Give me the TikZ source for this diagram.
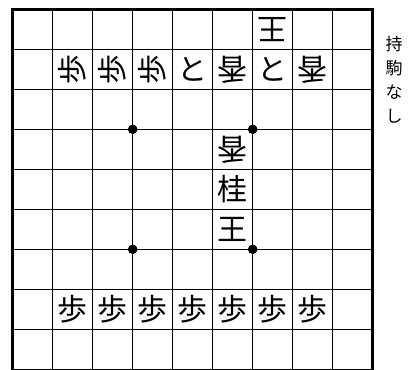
\documentclass[tikz,border=0pt]{standalone}
\usepackage{fontspec}
\newfontfamily\jpfont{Noto Sans CJK JP}
\begin{document}
\begin{tikzpicture}[
  x=1pt,y=-1pt,
  sente/.style={font=\jpfont\fontsize{30}{30}\selectfont,inner sep=0pt},
  gote/.style={sente,rotate=180},
  star/.style={circle,fill,inner sep=3.4pt},
  hand/.style={font=\jpfont\fontsize{17}{24}\selectfont,inner sep=0pt,align=center},
]
\def\cs{40}
\def\ox{12.7}
\def\oy{9.3}
\useasboundingbox (0,0) rectangle (409,369);
\clip (0,0) rectangle (409,369);

% ----- grid -----
\foreach \i in {1,...,8}
  \draw[line width=1.4pt] (\ox+\i*\cs,\oy) -- (\ox+\i*\cs,380);
\foreach \j in {1,...,9}
  \draw[line width=1.4pt] (\ox,\oy+\j*\cs) -- (\ox+9*\cs,\oy+\j*\cs);
\draw[line width=3pt] (\ox,380) |- (\ox+9*\cs,\oy) -- (\ox+9*\cs,380);

% ----- star points -----
\foreach \i/\j [count=\k] in {3/3,6/3,3/6,6/6}
  \node[star] (s\k) at (\ox+\i*\cs,\oy+\j*\cs) {};

% ----- gote pieces (glyphs turned as printed) -----
\node[gote] (g71) at (\ox+6.5*\cs,\oy+0.5*\cs) {王};
\foreach \c/\p/\r in {2/歩/90,3/歩/90,4/歩/90,5/と/0,6/香/180,7/と/0,8/香/180}
  \node[sente,rotate=\r] (g\c2) at (\ox+\c*\cs-0.5*\cs,\oy+1.5*\cs) {\p};
\node[gote] (g64) at (\ox+5.5*\cs,\oy+3.5*\cs) {香};

% ----- sente pieces -----
\node[sente] (s65) at (\ox+5.5*\cs,\oy+4.5*\cs) {桂};
\node[sente] (s66) at (\ox+5.5*\cs,\oy+5.5*\cs) {王};
\foreach \c in {2,...,8}
  \node[sente] (s\c8) at (\ox+\c*\cs-0.5*\cs,\oy+7.5*\cs) {歩};

% ----- pieces in hand -----
\node[hand,anchor=north] (hand) at (394,36) {持\\駒\\な\\し};
\end{tikzpicture}
\end{document}
